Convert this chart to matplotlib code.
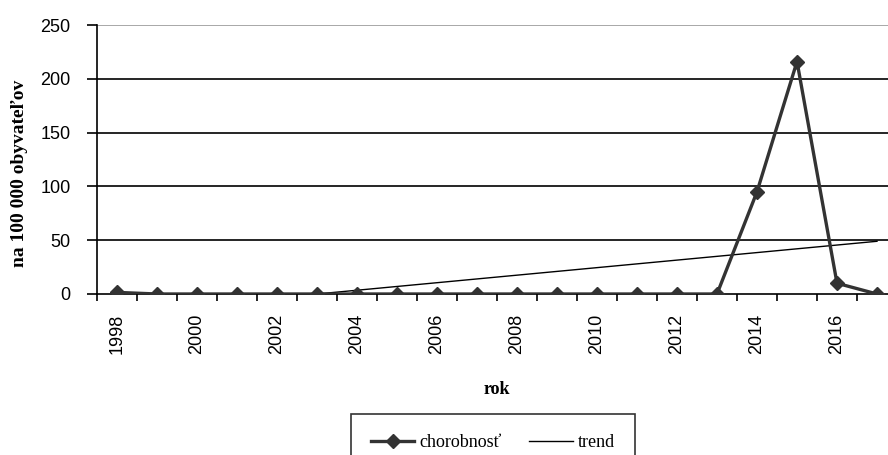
import matplotlib
matplotlib.use('Agg')
import matplotlib.pyplot as plt
import numpy as np

# data
years = list(range(1998, 2018))
chorobnost = [1.5, 0, 0, 0, 0, 0, 0, 0, 0, 0, 0, 0, 0, 0, 0, 0, 95, 216, 10, 0]
trend_years = [2003, 2017]
trend_vals = [0, 49]
yticks = [0, 50, 100, 150, 200, 250]

fig = plt.figure(figsize=(8.88, 4.55), dpi=100)
ax = fig.add_axes([97 / 888, 1 - 294 / 455, 800 / 888, 269 / 455])

x = np.arange(len(years))
ax.plot(x, chorobnost, color='#333333', lw=2.4, marker='D', ms=7,
        label='chorobnosť', zorder=3)
tx = [y - years[0] for y in trend_years]
ax.plot(tx, trend_vals, color='black', lw=1.0, label='trend', zorder=2)

ax.set_xlim(-0.5, len(years) - 0.5)
ax.set_ylim(0, 250)

# horizontal grid lines, the top one lighter
for v in yticks[1:-1]:
    ax.axhline(v, color='black', lw=1.2, zorder=1)
ax.axhline(250, color='#999999', lw=1.2, zorder=1)

for s in ['top', 'right']:
    ax.spines[s].set_visible(False)
ax.spines['left'].set_linewidth(1.2)
ax.spines['bottom'].set_linewidth(1.2)

# major ticks at category boundaries, labels at every other category
ax.set_xticks(np.arange(-0.5, len(years)))
ax.set_xticklabels([])
ax.tick_params(axis='x', which='major', length=5, width=1.2, direction='out')
ax.set_xticks(x[::2], minor=True)
ax.set_xticklabels([str(y) for y in years[::2]], minor=True, rotation=90,
                   fontsize=13, family='Liberation Sans')
ax.tick_params(axis='x', which='minor', length=0, pad=14)

ax.set_yticks(yticks)
ax.set_yticklabels([str(v) for v in yticks], fontsize=13, family='Liberation Sans')
ax.tick_params(axis='y', length=7, width=1.2, pad=12)

fig.text(20 / 888, 1 - 173 / 455, 'na 100 000 obyvateľov', rotation=90,
         ha='center', va='center', fontsize=14, fontweight='bold',
         family='Liberation Serif')
fig.text(497 / 888, 1 - 389 / 455, 'rok', ha='center', va='center',
         fontsize=13, fontweight='bold', family='Liberation Serif')

leg = fig.legend(loc='upper center', bbox_to_anchor=(493 / 888, 1 - 414 / 455),
                 ncol=2, frameon=True, fancybox=False, edgecolor='black',
                 prop={'family': 'Liberation Serif', 'size': 13},
                 handlelength=2.4, handletextpad=0.3, columnspacing=1.5,
                 borderpad=1.1, borderaxespad=0)
leg.get_frame().set_linewidth(1.2)

fig.savefig('out.png', dpi=100)
